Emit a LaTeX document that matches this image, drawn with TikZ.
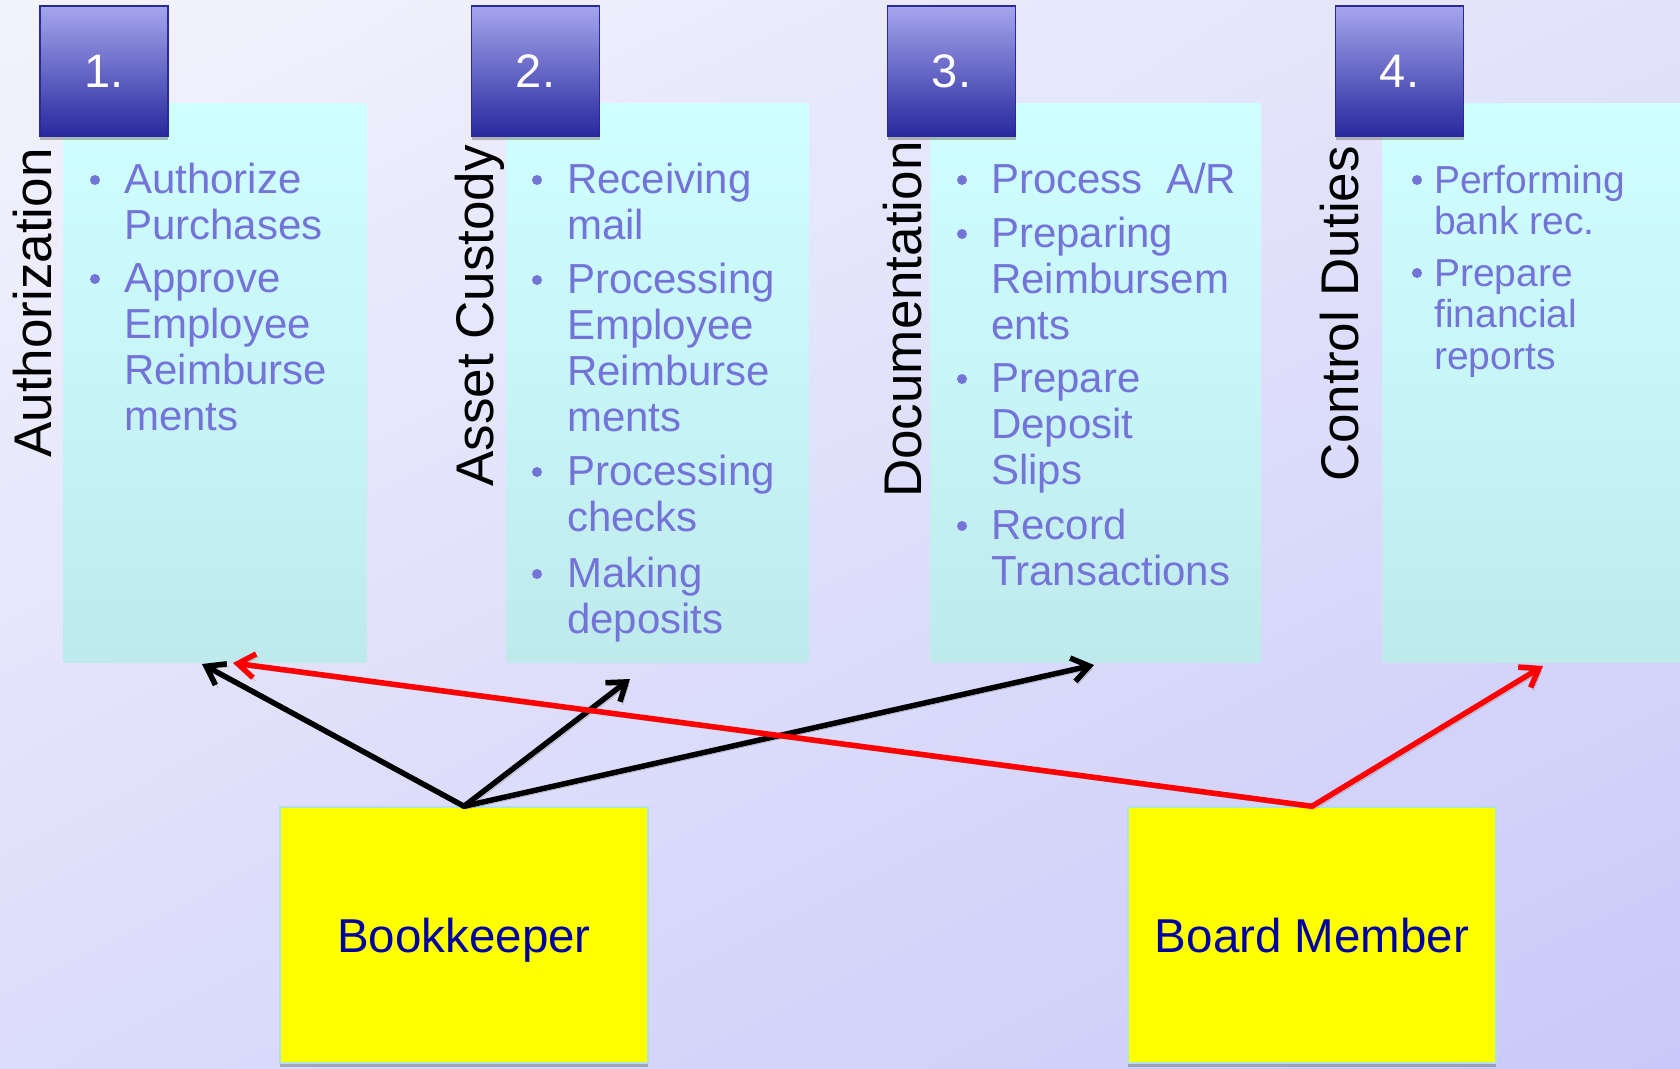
\documentclass[tikz,border=0pt]{standalone}
\usepackage{fontspec}
\setmainfont{Liberation Sans}
\usetikzlibrary{arrows.meta,shadows,shadings}
\definecolor{bulletc}{RGB}{116,116,216}
\definecolor{bgUL}{RGB}{243,243,253}
\definecolor{bgUR}{RGB}{226,226,251}
\definecolor{bgLL}{RGB}{220,220,251}
\definecolor{bgLR}{RGB}{201,201,249}
\definecolor{cyantop}{RGB}{208,255,255}
\definecolor{cyanbot}{RGB}{191,234,236}
\definecolor{numtop}{RGB}{166,166,238}
\definecolor{numbot}{RGB}{40,40,158}
\definecolor{numborder}{RGB}{42,42,150}
\definecolor{navytext}{RGB}{0,0,160}
\definecolor{yborder}{RGB}{175,225,230}
\definecolor{pureyellow}{RGB}{255,255,0}
\begin{document}
\begin{tikzpicture}[x=1pt,y=-1pt,
  cyanbox/.style={anchor=north west, top color=cyantop, bottom color=cyanbot, draw=none, rounded corners=3pt, inner sep=0},
  numbox/.style={top color=numtop, bottom color=numbot, draw=numborder, line width=1.5pt,
     minimum width=128pt, minimum height=130pt, inner sep=0, text=white,
     font=\fontsize{47}{56}\selectfont,
     drop shadow={shadow xshift=0pt, shadow yshift=-4pt, fill=black!60, opacity=0.45}},
  lbl/.style={rotate=90, anchor=base west, inner sep=0, text=black, font=\fontsize{53}{60}\selectfont},
  itm/.style={anchor=base west, inner sep=0, text=bulletc, font=\fontsize{42}{46}\selectfont},
  itms/.style={anchor=base west, inner sep=0, text=bulletc, font=\fontsize{39}{41.5}\selectfont},
  ybox/.style={fill=pureyellow, draw=yborder, line width=1.5pt, minimum width=368pt, minimum height=256pt,
     inner sep=0, text=navytext, text depth=0pt, font=\fontsize{47.5}{57}\selectfont,
     drop shadow={shadow xshift=0pt, shadow yshift=-4pt, fill=black!60, opacity=0.45}},
  arr/.style={line width=5.5pt, line cap=round, line join=round,
     -{Straight Barb[length=17pt,width=24pt]},
     preaction={draw=black!60, opacity=0.55, transform canvas={shift={(2.5pt,-3pt)}}}}
]
\useasboundingbox (0,0) rectangle (1680,1068);
\shade[upper left=bgUL, upper right=bgUR, lower left=bgLL, lower right=bgLR] (0,0) rectangle (1680,1068);

% content boxes
\node[cyanbox, minimum width=304pt, minimum height=560pt] (c1) at (63,103) {};
\node[cyanbox, minimum width=303pt, minimum height=560pt] (c2) at (506,103) {};
\node[cyanbox, minimum width=331pt, minimum height=560pt] (c3) at (930,103) {};
\node[cyanbox, minimum width=310pt, minimum height=560pt] (c4) at (1382,103) {};

% number boxes
\node[numbox] (n1) at (104,71) {1.};
\node[numbox] (n2) at (535.5,71) {2.};
\node[numbox] (n3) at (951.5,71) {3.};
\node[numbox] (n4) at (1399.5,71) {4.};

% rotated labels
\node[lbl] (l1) at (51,458) {Authorization};
\node[lbl] (l2) at (493,487) {Asset Custody};
\node[lbl] (l3) at (921,498) {Documentation};
\node[lbl] (l4) at (1358,482) {Control Duties};

% bullets
\foreach \bx/\by in {95/193, 95/292, 537/193, 537/293, 537/485, 537/587,
                     962/193, 962/247, 962/392, 962/539, 1417/193, 1417/286}
  \fill[bulletc] (\bx,\by-13) circle (5pt);

% box 1 items
\node[itm] (a1) at (124,193) {\begin{tabular}[t]{@{}l@{}}Authorize\\Purchases\end{tabular}};
\node[itm] (a2) at (124,292) {\begin{tabular}[t]{@{}l@{}}Approve\\Employee\\Reimburse\\ments\end{tabular}};
% box 2 items
\node[itm] (b1) at (567,193) {\begin{tabular}[t]{@{}l@{}}Receiving\\mail\end{tabular}};
\node[itm] (b2) at (567,293) {\begin{tabular}[t]{@{}l@{}}Processing\\Employee\\Reimburse\\ments\end{tabular}};
\node[itm] (b3) at (567,485) {\begin{tabular}[t]{@{}l@{}}Processing\\checks\end{tabular}};
\node[itm] (b4) at (567,587) {\begin{tabular}[t]{@{}l@{}}Making\\deposits\end{tabular}};
% box 3 items
\node[itm] (d1) at (991,193) {Process\ \ A/R};
\node[itm] (d2) at (991,247) {\begin{tabular}[t]{@{}l@{}}Preparing\\Reimbursem\\ents\end{tabular}};
\node[itm] (d3) at (991,392) {\begin{tabular}[t]{@{}l@{}}Prepare\\Deposit\\Slips\end{tabular}};
\node[itm] (d4) at (991,539) {\begin{tabular}[t]{@{}l@{}}Record\\Transactions\end{tabular}};
% box 4 items
\node[itms] (e1) at (1434,193) {\begin{tabular}[t]{@{}l@{}}Performing\\bank rec.\end{tabular}};
\node[itms] (e2) at (1434,286) {\begin{tabular}[t]{@{}l@{}}Prepare\\financial\\reports\end{tabular}};

% people boxes
\node[ybox] (bk) at (464,935) {Bookkeeper};
\node[ybox] (bm) at (1312,935) {Board Member};

% arrow targets
\coordinate (t1) at (202,664);
\coordinate (t2) at (630,679);
\coordinate (t3) at (1094,665);
\coordinate (t4) at (233,663);
\coordinate (t5) at (1543,666);

\draw[arr, black] (bk.north) -- (t1);
\draw[arr, black] (bk.north) -- (t2);
\draw[arr, black] (bk.north) -- (t3);
\draw[arr, red] (bm.north) -- (t4);
\draw[arr, red] (bm.north) -- (t5);
\end{tikzpicture}
\end{document}
